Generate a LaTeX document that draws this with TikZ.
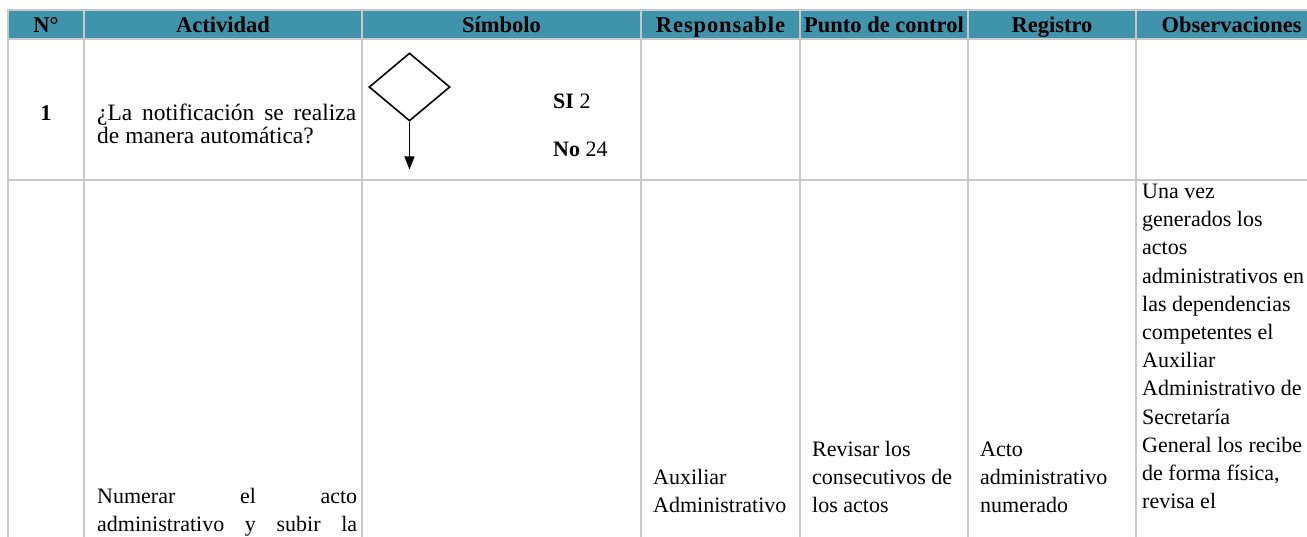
\documentclass[tikz,border=0pt]{standalone}
\usepackage{fontspec}
\setmainfont{Liberation Serif}
\usetikzlibrary{shapes.geometric,arrows.meta}
\definecolor{hdr}{HTML}{3F93AA}
\definecolor{gridc}{HTML}{C8C8C8}
\begin{document}
\begin{tikzpicture}[x=1pt,y=-1pt,
  gridline/.style={draw=gridc,line width=2pt},
  hd/.style={font=\fontsize{22.5}{24}\selectfont\bfseries,inner sep=0pt,anchor=base},
  tx/.style={font=\fontsize{22}{22}\selectfont,inner sep=0pt,anchor=base west},
  txl/.style={tx,font=\fontsize{23.5}{24}\selectfont},
  decision/.style={draw,diamond,minimum width=81pt,minimum height=68pt,inner sep=0pt,line width=1.6pt},
]
\useasboundingbox (0,0) rectangle (1307,537);
\clip (0,0) rectangle (1307,537);
\fill[white] (0,0) rectangle (1307,537);
\fill[hdr] (8,10) rectangle (1330,39.5);
% grid
\foreach \yy in {10,39.5,180} \draw[gridline] (7,\yy) -- (1330,\yy);
\foreach \xx in {8,84,362,641,800,968,1136} \draw[gridline] (\xx,9) -- (\xx,540);
% header
\node[hd] (hN) at (46,32.5) {N°};
\node[hd] (hA) at (223,32.5) {Actividad};
\node[hd] (hS) at (501.5,32.5) {Símbolo};
\node[hd] (hR) at (720.5,32.5) {\addfontfeature{LetterSpace=4}Responsable};
\node[hd] (hP) at (884,32.5) {Punto de control};
\node[hd] (hG) at (1052,32.5) {Registro};
\node[hd] (hO) at (1231.5,32.5) {Observaciones};
% row 1
\node[hd] (n1) at (46,120.5) {1};
\node[txl] (a1a) at (97,120.5) {\hbox to 259pt{¿La\hfill notificación\hfill se\hfill realiza}};
\node[txl] (a1b) at (97,143.5) {de manera automática?};
\node[decision] (dec) at (409.5,87) {};
\coordinate (tip) at (409.5,169.5);
\draw[-{Triangle[width=10pt,length=13pt]},line width=1.4pt] (dec.south) -- (tip);
\node[tx] (si) at (553,109) {\textbf{SI} 2};
\node[tx] (no) at (553,157) {\textbf{No} 24};
% row 2
\node[tx] (a2a) at (97,503) {\hbox to 260pt{Numerar\hfill el\hfill acto}};
\node[tx] (a2b) at (97,531) {\hbox to 260pt{administrativo\hfill y\hfill subir\hfill la}};
\node[tx] (r2a) at (653,484) {Auxiliar};
\node[tx] (r2b) at (653,512) {Administrativo};
\node[tx] (p2a) at (812,456) {Revisar los};
\node[tx] (p2b) at (812,484) {consecutivos de};
\node[tx] (p2c) at (812,512) {los actos};
\node[tx] (g2a) at (980,456) {Acto};
\node[tx] (g2b) at (980,484) {administrativo};
\node[tx] (g2c) at (980,512) {numerado};
\foreach \t [count=\i] in {{Una vez},{generados los},{actos},{administrativos en},{las dependencias},{competentes el},{Auxiliar},{Administrativo de},{Secretaría},{General los recibe},{de forma física,},{revisa el}}
  \node[tx] (o\i) at (1142,{198.5+28.2*(\i-1)}) {\t};
\end{tikzpicture}
\end{document}
